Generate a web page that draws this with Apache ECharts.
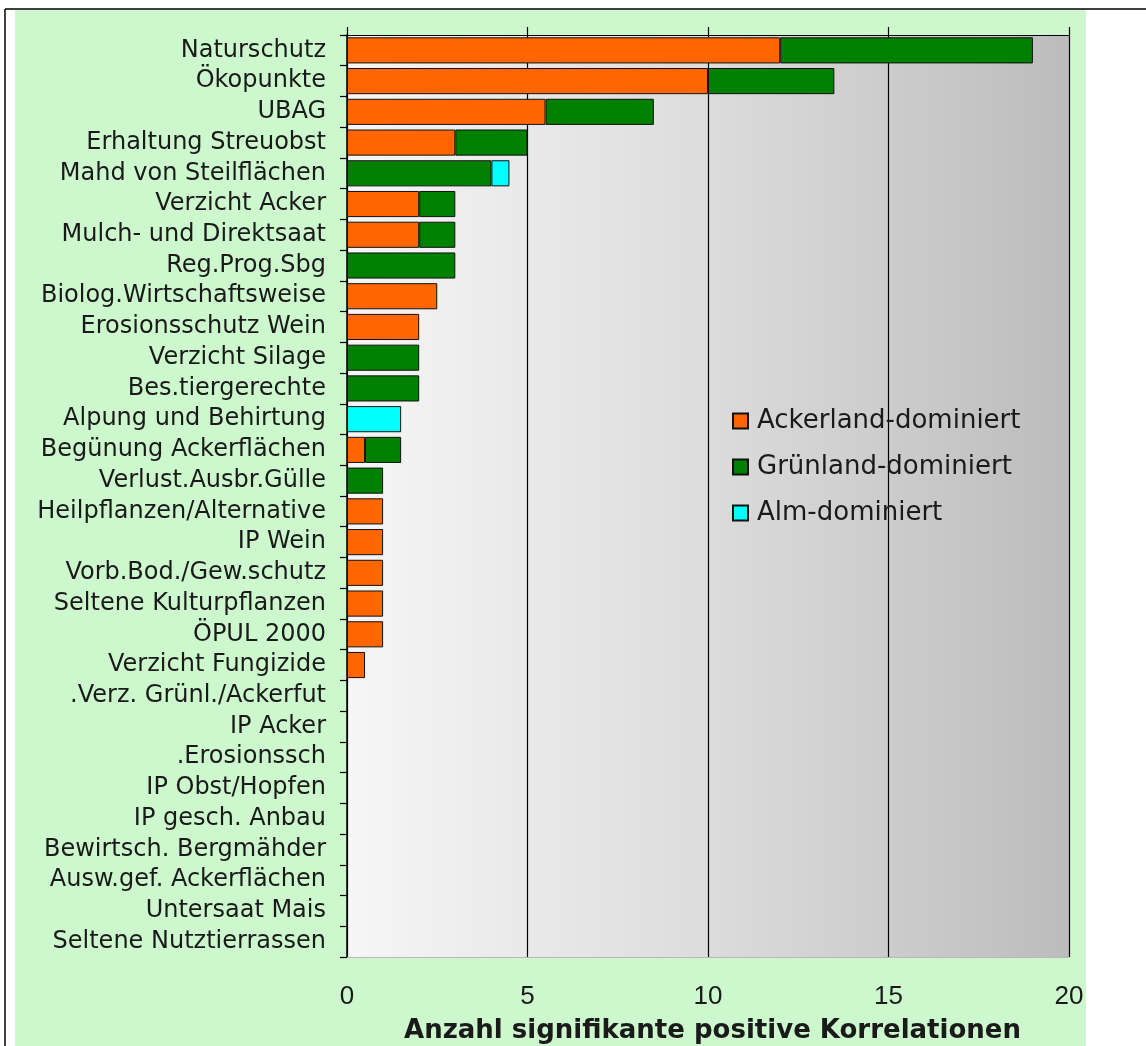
<!DOCTYPE html>
<html>
<head>
<meta charset="utf-8">
<style>
  html, body { margin: 0; padding: 0; background: #ffffff; }
  #chart { width: 1146px; height: 1046px; }
</style>
<script src="https://cdn.jsdelivr.net/npm/echarts@6/dist/echarts.min.js"></script>
</head>
<body>
<div id="chart"></div>
<script>
// Programme categories, listed top to bottom
const categories = [
  'Naturschutz', 'Ökopunkte', 'UBAG', 'Erhaltung Streuobst', 'Mahd von Steilflächen',
  'Verzicht Acker', 'Mulch- und Direktsaat', 'Reg.Prog.Sbg', 'Biolog.Wirtschaftsweise',
  'Erosionsschutz Wein', 'Verzicht Silage', 'Bes.tiergerechte', 'Alpung und Behirtung',
  'Begünung Ackerflächen', 'Verlust.Ausbr.Gülle', 'Heilpflanzen/Alternative', 'IP Wein',
  'Vorb.Bod./Gew.schutz', 'Seltene Kulturpflanzen', 'ÖPUL 2000', 'Verzicht Fungizide',
  '.Verz. Grünl./Ackerfut', 'IP Acker', '.Erosionssch', 'IP Obst/Hopfen', 'IP gesch. Anbau',
  'Bewirtsch. Bergmähder', 'Ausw.gef. Ackerflächen', 'Untersaat Mais', 'Seltene Nutztierrassen'
];

// Number of significant positive correlations per region type
const ackerland = [12, 10, 5.5, 3, 0, 2, 2, 0, 2.5, 2, 0, 0, 0, 0.5, 0, 1, 1, 1, 1, 1, 0.5, 0, 0, 0, 0, 0, 0, 0, 0, 0];
const gruenland = [7, 3.5, 3, 2, 4, 1, 1, 3, 0, 0, 2, 2, 0, 1, 1, 0, 0, 0, 0, 0, 0, 0, 0, 0, 0, 0, 0, 0, 0, 0];
const alm       = [0, 0, 0, 0, 0.5, 0, 0, 0, 0, 0, 0, 0, 1.5, 0, 0, 0, 0, 0, 0, 0, 0, 0, 0, 0, 0, 0, 0, 0, 0, 0];

const xTicks = [0, 5, 10, 15, 20];

const FONT = '"DejaVu Sans", "Liberation Sans", sans-serif';
const NUM_FONT = '"Liberation Sans", Arial, sans-serif';
const TEXT = '#1a1a1a';
const GREEN_BG = '#cdf7cd';

// empty segments are left out so no border line is drawn for them
const seg = arr => arr.map(v => (v === 0 ? null : v));

const chart = echarts.init(document.getElementById('chart'), null, { renderer: 'canvas' });

const barStyle = color => ({ color: color, borderColor: '#111111', borderWidth: 1 });

const option = {
  animation: false,
  backgroundColor: '#ffffff',
  graphic: [
    // light green panel and outer frame lines
    { type: 'rect', z: -10, shape: { x: 15, y: 10, width: 1071, height: 1036 }, style: { fill: GREEN_BG } },
    { type: 'line', z: -5, shape: { x1: 5, y1: 9, x2: 1146, y2: 9 }, style: { stroke: '#000', lineWidth: 1.5 } },
    { type: 'line', z: -5, shape: { x1: 5, y1: 9, x2: 5, y2: 1046 }, style: { stroke: '#000', lineWidth: 1.5 } }
  ],
  grid: {
    left: 347, right: 77, top: 35, bottom: 89,
    outerBoundsMode: 'none',
    containLabel: false,
    show: true,
    borderWidth: 0,
    backgroundColor: new echarts.graphic.LinearGradient(0, 0, 1, 0, [
      { offset: 0, color: '#f6f6f6' },
      { offset: 0.5, color: '#dcdcdc' },
      { offset: 1, color: '#bcbcbc' }
    ])
  },
  legend: {
    orient: 'vertical',
    left: 727, top: 403,
    itemWidth: 15, itemHeight: 15,
    itemGap: 20,
    icon: 'rect',
    textStyle: { fontFamily: FONT, fontSize: 26, color: TEXT, padding: [0, 0, 0, 4] },
    data: ['Ackerland-dominiert', 'Grünland-dominiert', 'Alm-dominiert']
  },
  xAxis: [
    {
      type: 'value',
      position: 'bottom',
      min: xTicks[0], max: xTicks[xTicks.length - 1], interval: 5,
      axisLine: { show: true, lineStyle: { color: '#b8b8b8', width: 1 } },
      axisTick: { show: false },
      axisLabel: { fontFamily: NUM_FONT, fontSize: 26, color: TEXT, margin: 27 },
      splitLine: { show: true, lineStyle: { color: '#000000', width: 1.2 } },
      name: 'Anzahl signifikante positive Korrelationen',
      nameLocation: 'middle',
      nameGap: 61,
      nameTextStyle: { fontFamily: FONT, fontSize: 26, fontWeight: 'bold', color: TEXT, padding: [0, 0, 0, 9] }
    },
    {
      type: 'value',
      position: 'top',
      min: xTicks[0], max: xTicks[xTicks.length - 1], interval: 5,
      axisLine: { show: true, lineStyle: { color: '#000000', width: 1.2 } },
      axisTick: { show: true, length: 8, lineStyle: { color: '#000000', width: 1.2 } },
      axisLabel: { show: false },
      splitLine: { show: false }
    }
  ],
  yAxis: {
    type: 'category',
    inverse: true,
    data: categories,
    axisLine: { show: true, lineStyle: { color: '#000000', width: 1.5 } },
    axisTick: { show: true, length: 7, interval: 0, alignWithLabel: false, lineStyle: { color: '#000000', width: 1.2 } },
    axisLabel: { interval: 0, hideOverlap: false, fontFamily: FONT, fontSize: 24, color: TEXT, margin: 21 }
  },
  series: [
    {
      name: 'Ackerland-dominiert', type: 'bar', stack: 'total', xAxisIndex: 0,
      barCategoryGap: '15%',
      itemStyle: barStyle('#ff6600'),
      data: seg(ackerland)
    },
    {
      name: 'Grünland-dominiert', type: 'bar', stack: 'total', xAxisIndex: 0,
      barCategoryGap: '15%',
      itemStyle: barStyle('#008000'),
      data: seg(gruenland)
    },
    {
      name: 'Alm-dominiert', type: 'bar', stack: 'total', xAxisIndex: 0,
      barCategoryGap: '15%',
      itemStyle: barStyle('#00ffff'),
      data: seg(alm)
    }
  ]
};

chart.setOption(option);
</script>
</body>
</html>
